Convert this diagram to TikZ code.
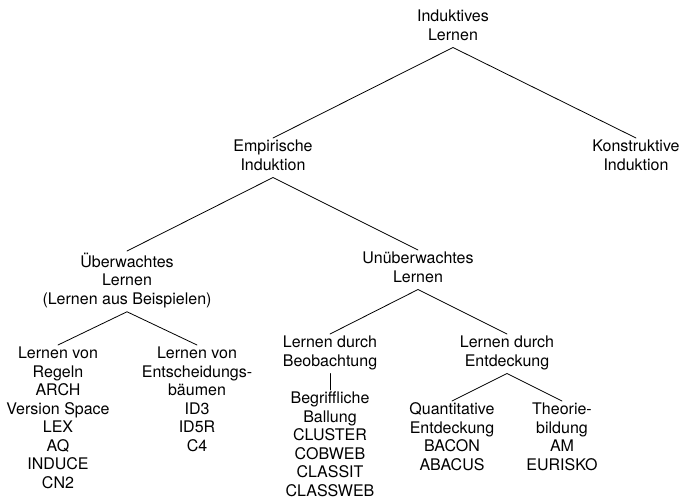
\documentclass[tikz,border=0pt]{standalone}
\usepackage{fontspec}
\setmainfont{TeX Gyre Heros}
\begin{document}
\begin{tikzpicture}[x=1pt,y=-1pt,line join=round,line cap=round,line width=0.8pt,
	every node/.style={align=center,anchor=north,inner sep=1.5pt,
		font=\fontsize{16}{18.5}\selectfont,
		execute at begin node=\strut,execute at end node=\strut}]
	\useasboundingbox (0,0) rectangle (680,500);
	\node (induktiv) at (453,8) {Induktives\\Lernen};
	\node (empirisch) at (273,138) {Empirische\\Induktion};
	\node (konstruktiv) at (636,138) {Konstruktive\\Induktion};
	\node (ueberwacht) at (127,251) {Überwachtes\\Lernen\\(Lernen aus Beispielen)};
	\node (unueberwacht) at (418,250) {Unüberwachtes\\Lernen};
	\node (regeln) at (58,345) {Lernen von\\Regeln\\ARCH\\Version Space\\LEX\\AQ\\INDUCE\\CN2};
	\node (baeume) at (197,345) {Lernen von\\Entscheidungs-\\bäumen\\ID3\\ID5R\\C4};
	\node (beobachtung) at (330,334) {Lernen durch\\Beobachtung};
	\node (entdeckung) at (507,334) {Lernen durch\\Entdeckung};
	\node (ballung) at (330,390) {Begriffliche\\Ballung\\CLUSTER\\COBWEB\\CLASSIT\\CLASSWEB};
	\node (quantitativ) at (452,401) {Quantitative\\Entdeckung\\BACON\\ABACUS};
	\node (theorie) at (562,401) {Theorie-\\bildung\\AM\\EURISKO};
	% Verbindungen
	\draw (empirisch.north)--(induktiv.south)--(konstruktiv.north);
	\draw (ueberwacht.north)--(empirisch.south)--(unueberwacht.north);
	\draw (regeln.north)--(ueberwacht.south)--(baeume.north);
	\draw (beobachtung.north)--(unueberwacht.south)--(entdeckung.north);
	\draw (beobachtung.south)--(ballung.north);
	\draw (quantitativ.north)--(entdeckung.south)--(theorie.north);
\end{tikzpicture}
\end{document}
